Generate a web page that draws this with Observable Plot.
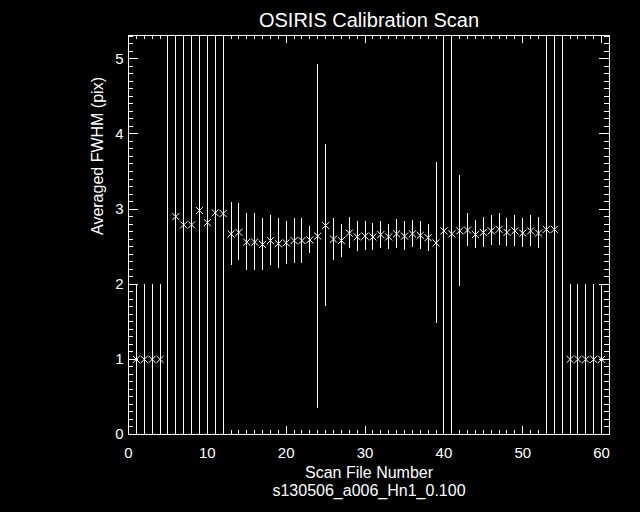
<!DOCTYPE html>
<html>
<head>
<meta charset="utf-8">
<script src="https://cdn.jsdelivr.net/npm/d3@7"></script>
<script src="https://cdn.jsdelivr.net/npm/@observablehq/plot@0.6"></script>
<style>
html, body { margin: 0; padding: 0; background: #000; }
#chart svg { display: block; }
#chart svg line, #chart svg rect { shape-rendering: crispEdges; }
</style>
</head>
<body>
<div id="chart"></div>
<script>
// ---- data ----
const scanFile = [1,2,3,4,5,6,7,8,9,10,11,12,13,14,15,16,17,18,19,20,
                  21,22,23,24,25,26,27,28,29,30,31,32,33,34,35,36,37,38,39,40,
                  41,42,43,44,45,46,47,48,49,50,51,52,53,54,55,56,57,58,59,60];
const fwhm = [1.00,1.00,1.00,1.00,6.00,2.90,2.79,2.79,2.98,2.82,
              2.95,2.94,2.67,2.69,2.56,2.56,2.53,2.58,2.54,2.55,
              2.58,2.58,2.59,2.64,2.78,2.60,2.58,2.68,2.63,2.64,
              2.63,2.66,2.63,2.67,2.64,2.67,2.65,2.62,2.55,2.71,
              2.67,2.71,2.72,2.66,2.69,2.71,2.73,2.69,2.71,2.68,
              2.71,2.68,2.73,2.73,6.00,1.00,1.00,1.00,1.00,1.00];
const fwhmErr = [1.00,1.00,1.00,1.00,8.00,3.50,3.50,3.50,3.50,3.50,
                 3.50,3.50,0.42,0.38,0.38,0.38,0.35,0.33,0.33,0.29,
                 0.30,0.30,0.18,2.29,1.08,0.28,0.22,0.21,0.20,0.19,
                 0.18,0.18,0.17,0.19,0.19,0.18,0.19,0.18,1.07,3.50,
                 3.50,0.74,0.22,0.19,0.20,0.20,0.21,0.19,0.21,0.19,
                 0.21,0.21,3.50,3.50,8.00,1.00,1.00,1.00,1.00,1.00];

const xMajorTicks = [0,10,20,30,40,50,60];
const yMajorTicks = [0,1,2,3,4,5];
const xMinorTicks = d3.range(0, 62, 1);
const yMinorTicks = d3.range(0, 54).map(i => i / 10);

const titleText = "OSIRIS Calibration Scan";
const xTitle = "Scan File Number";
const yTitle = "Averaged FWHM (pix)";
const subTitle = "s130506_a006_Hn1_0.100";

// ---- layout ----
const W = 640, H = 512;
const mL = 128, mR = 31, mT = 35, mB = 78;
const plotW = W - mL - mR, plotH = H - mT - mB;
const white = "#fff";

const rows = scanFile.map((x, i) => ({
  x, y: fwhm[i], lo: fwhm[i] - fwhmErr[i], hi: fwhm[i] + fwhmErr[i]
}));

const chart = Plot.plot({
  width: W, height: H,
  marginLeft: mL, marginRight: mR, marginTop: mT, marginBottom: mB,
  style: { background: "#000", color: white, fontFamily: "'Liberation Sans', Arial, sans-serif", fontSize: "16px" },
  x: { domain: [0, 61] },
  y: { domain: [0, 5.31] },
  marks: [
    // error bars
    Plot.ruleX(rows, { x: "x", y1: "lo", y2: "hi", stroke: white, strokeWidth: 1, clip: true }),
    // markers
    Plot.dot(rows, { x: "x", y: "y", symbol: "times", r: 3.3, stroke: white, strokeWidth: 1, clip: true }),
    // frame
    Plot.frame({ stroke: white, strokeWidth: 1 }),
    // inward ticks: bottom / top
    Plot.tickX(xMinorTicks, { x: d => d, stroke: white, insetTop: plotH - 4 }),
    Plot.tickX(xMajorTicks, { x: d => d, stroke: white, insetTop: plotH - 8 }),
    Plot.tickX(xMinorTicks, { x: d => d, stroke: white, insetBottom: plotH - 4 }),
    Plot.tickX(xMajorTicks, { x: d => d, stroke: white, insetBottom: plotH - 8 }),
    // inward ticks: left / right
    Plot.tickY(yMinorTicks, { y: d => d, stroke: white, insetRight: plotW - 5 }),
    Plot.tickY(yMajorTicks, { y: d => d, stroke: white, insetRight: plotW - 10 }),
    Plot.tickY(yMinorTicks, { y: d => d, stroke: white, insetLeft: plotW - 5 }),
    Plot.tickY(yMajorTicks, { y: d => d, stroke: white, insetLeft: plotW - 10 }),
    // tick labels
    Plot.axisX({ anchor: "bottom", ticks: xMajorTicks, tickFormat: "d", tickSize: 0, tickPadding: 13, label: null, fontSize: 15, fill: white }),
    Plot.axisY({ anchor: "left", ticks: yMajorTicks, tickFormat: "d", tickSize: 0, tickPadding: 5, label: null, fontSize: 15, fill: white }),
    // titles
    Plot.text([titleText], { frameAnchor: "top", dy: -15, lineAnchor: "middle", fontSize: 20, fill: white }),
    Plot.text([xTitle], { frameAnchor: "bottom", dy: 38.5, lineAnchor: "middle", fontSize: 16, fill: white }),
    Plot.text([subTitle], { frameAnchor: "bottom", dy: 56, lineAnchor: "middle", fontSize: 16, fill: white }),
    Plot.text([yTitle], { frameAnchor: "left", dx: -31, rotate: -90, lineAnchor: "middle", fontSize: 16, fill: white })
  ]
});

document.getElementById("chart").appendChild(chart);
</script>
</body>
</html>
